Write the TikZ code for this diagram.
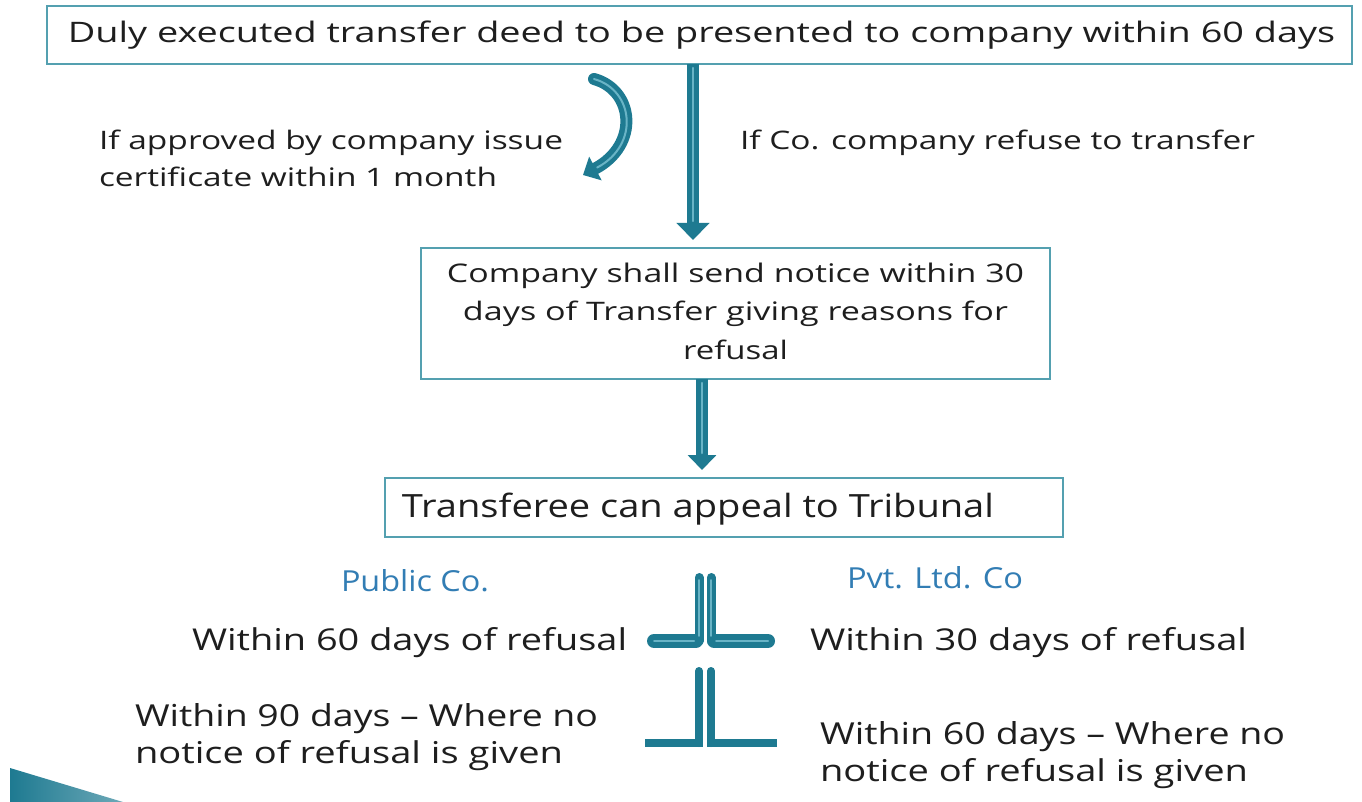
\documentclass[tikz,border=0pt]{standalone}
\usepackage{fontspec}
\setmainfont{Open Sans}
\usepackage{graphicx}
\usetikzlibrary{arrows.meta}
\definecolor{txt}{RGB}{30,30,30}
\definecolor{boxc}{RGB}{84,160,176}
\definecolor{tealA}{RGB}{30,122,145}
\definecolor{tealB}{RGB}{105,180,198}
\definecolor{blueL}{RGB}{50,125,180}
\newcommand{\fl}[3]{\resizebox{#1pt}{#2pt}{#3}}
\tikzset{
  box/.style={draw=boxc, line width=1.6pt, inner sep=0pt, outer sep=0pt, text=txt},
  lbl/.style={inner sep=0pt, outer sep=0pt, text=txt, anchor=base west},
  mlbl/.style={inner sep=0pt, outer sep=0pt, text=txt, anchor=north west, align=left, font=\fontsize{24}{37}\selectfont},
  shaft/.style={draw=tealA, line width=12.5pt, shorten >=8pt, -{Triangle[width=32pt,length=17pt]}},
  shine/.style={draw=tealB, line width=2.5pt, line cap=round},
  vbar/.style={draw=tealA, line cap=round},
  hbar/.style={draw=tealA, line cap=round, line width=14pt},
  flatbar/.style={draw=tealA, line cap=butt, line width=8pt},
}
\begin{document}
\begin{tikzpicture}[x=1pt,y=-1pt]
\fill[white] (0,0) rectangle (1362,802);
\useasboundingbox (0,0) rectangle (1362,802);

% boxes
\node[box, minimum width=1305pt, minimum height=58pt] (deed) at (699.5,35)
  {\hspace*{4pt}\fl{1267}{21.6}{Duly executed transfer deed to be presented to company within 60 days}};
\node[box, minimum width=629pt, minimum height=131pt, align=center, font=\fontsize{26}{38.5}\selectfont] (notice) at (735.5,313.5)
  {\fl{577}{19.5}{Company shall send notice within 30}\\
   \fl{545}{19.5}{days of Transfer giving reasons for}\\
   \fl{105}{19.5}{refusal}\rule[-5.5pt]{0pt}{5.5pt}};
\node[box, minimum width=678pt, minimum height=59pt] (appeal) at (724,507.5)
  {\rule{0pt}{28.5pt}\fl{592}{24.5}{Transferee can appeal to Tribunal}\hspace*{52pt}};

% side labels
\node[mlbl] (approve) at (99,130.5)
  {\fl{464}{19.5}{If approved by company issue}\\
   \fl{398}{19.5}{certificate within 1 month}};
\node[lbl] (refuse) at (740,150) {\fl{515}{19.5}{If Co. company refuse to transfer}};
\node[lbl, text=blueL] (public) at (341,591) {\fl{148}{22}{Public Co.}};
\node[lbl, text=blueL] (pvt) at (847,588) {\fl{176}{22}{Pvt. Ltd. Co}};
\node[lbl] (pub60) at (192,650) {\fl{435}{23}{Within 60 days of refusal}};
\node[lbl] (pvt30) at (810,650) {\fl{437}{23}{Within 30 days of refusal}};
\node[mlbl] (pub90) at (135,703)
  {\fl{463}{23}{Within 90 days – Where no}\\
   \fl{428}{23}{notice of refusal is given}};
\node[mlbl] (pvt60) at (820,721)
  {\fl{465}{23}{Within 60 days – Where no}\\
   \fl{428}{23}{notice of refusal is given}};

% straight arrows
\draw[shaft] ([xshift=-6.5pt]deed.south) -- ([xshift=-42.5pt]notice.north);
\draw[shine, shorten >=27pt, shorten <=4pt] ([xshift=-6.5pt]deed.south) -- ([xshift=-42.5pt]notice.north);
\draw[shaft, -{Triangle[width=28pt,length=15pt]}] ([xshift=-33.5pt]notice.south) -- ([xshift=-22pt]appeal.north);
\draw[shine, shorten >=25pt, shorten <=4pt] ([xshift=-33.5pt]notice.south) -- ([xshift=-22pt]appeal.north);

% curved arrow
\coordinate (c0) at (594,79);
\coordinate (c1) at (583,175);
\draw[draw=tealA, line width=12pt, line cap=round, -{Triangle[width=26pt,length=14pt]}]
  (c0) .. controls (634,90) and (640,145) .. (c1);
\draw[shine, line width=2pt, shorten >=16pt] (c0) .. controls (634,90) and (640,145) .. (c1);

% upper pair of L bars
\draw[vbar, line width=9pt] (699,577.5) -- (699,641);
\draw[vbar, line width=9pt] (711,577.5) -- (711,641);
\draw[hbar] (654,641) -- (696,641);
\draw[hbar] (714,641) -- (768,641);
\draw[shine, line width=1.6pt] (699,580) -- (699,636);
\draw[shine, line width=1.6pt] (711,580) -- (711,636);
\draw[shine, line width=2pt] (654,641) -- (694,641);
\draw[shine, line width=2pt] (716,641) -- (768,641);

% lower pair of L bars
\draw[vbar, line width=8pt] (699,671) -- (699,743);
\draw[vbar, line width=8pt] (711,671) -- (711,743);
\draw[flatbar] (645,743) -- (703,743);
\draw[flatbar] (707,743) -- (777,743);

% corner wedge
\shade[left color=tealA, right color=tealA!65!white] (10,768) -- (123,802) -- (10,802) -- cycle;
\end{tikzpicture}
\end{document}
